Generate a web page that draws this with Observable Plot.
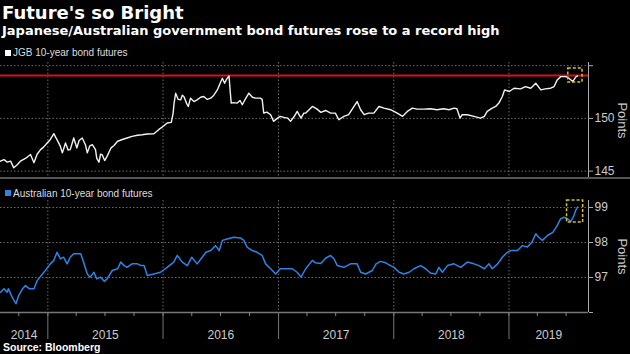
<!DOCTYPE html>
<html>
<head>
<meta charset="utf-8">
<script src="https://cdn.jsdelivr.net/npm/d3@7"></script>
<script src="https://cdn.jsdelivr.net/npm/@observablehq/plot@0.6"></script>
<style>
  html, body { margin: 0; padding: 0; background: #000; }
  #chart { position: relative; width: 630px; height: 354px; overflow: hidden; background: #000; }
  .abs { position: absolute; white-space: nowrap; }
  .title { left: 2px; top: 4px; font: bold 18px/18px "DejaVu Sans", sans-serif; color: #fff; }
  .subtitle { left: 2px; top: 24px; font: bold 13px/13px "DejaVu Sans", sans-serif; color: #fff; }
  .legend { font: 10px/10px "Liberation Sans", Arial, sans-serif; color: #ddd; }
  .swatch { position: absolute; width: 6px; height: 6px; }
  .source { left: 3px; top: 342px; font: bold 10.5px/10.5px "Liberation Sans", Arial, sans-serif; color: #fff; }
  .sep { position: absolute; left: 0; top: 177px; width: 630px; height: 2px; background: #555; }
</style>
</head>
<body>
<div id="chart">
  <div class="abs title">Future's so Bright</div>
  <div class="abs subtitle">Japanese/Australian government bond futures rose to a record high</div>
  <div id="top" class="abs" style="left:0;top:50px;"></div>
  <div class="sep"></div>
  <div id="bottom" class="abs" style="left:0;top:185px;"></div>
  <div class="swatch" style="left:5px;top:50px;background:#fff;"></div>
  <div class="abs legend" style="left:13px;top:48px;">JGB 10-year bond futures</div>
  <div class="swatch" style="left:5px;top:190px;background:#2d84e6;"></div>
  <div class="abs legend" style="left:13px;top:188.5px;">Australian 10-year bond futures</div>
  <div class="abs source">Source: Bloomberg</div>
</div>
<script>
// ---- data ----
const jgbDates = [
"2014-08-04","2014-08-15","2014-08-25","2014-09-05","2014-09-15","2014-09-26","2014-10-06","2014-10-22","2014-11-07","2014-11-18","2014-11-28","2014-12-09","2014-12-19","2014-12-30",
"2015-01-09","2015-01-20","2015-01-26","2015-01-30","2015-02-09","2015-02-16","2015-02-26","2015-03-06","2015-03-13","2015-03-24","2015-04-03","2015-04-10","2015-04-20","2015-04-30","2015-05-06","2015-05-14","2015-05-22","2015-06-01","2015-06-05","2015-06-12","2015-06-17","2015-06-22","2015-06-30","2015-07-08","2015-07-20","2015-07-29","2015-08-10","2015-08-25","2015-09-09","2015-09-25","2015-10-12","2015-10-27","2015-11-12","2015-12-03","2015-12-18",
"2016-01-04","2016-01-14","2016-01-27","2016-02-02","2016-02-05","2016-02-10","2016-02-18","2016-02-26","2016-03-02","2016-03-07","2016-03-16","2016-03-21","2016-03-28","2016-04-08","2016-04-18","2016-04-29","2016-05-09","2016-05-20","2016-05-31","2016-06-10","2016-06-21","2016-07-01","2016-07-07","2016-07-14","2016-07-20","2016-07-28","2016-08-01","2016-08-04","2016-08-12","2016-08-23","2016-09-01","2016-09-08","2016-09-19","2016-09-29","2016-10-10","2016-10-20","2016-11-04","2016-11-10","2016-11-15","2016-11-25","2016-12-07","2016-12-16","2016-12-28",
"2017-01-06","2017-01-18","2017-01-30","2017-02-08","2017-02-20","2017-03-01","2017-03-13","2017-03-22","2017-03-28","2017-04-07","2017-04-18","2017-05-02","2017-05-15","2017-05-30","2017-06-15","2017-06-30","2017-07-11","2017-07-27","2017-08-11","2017-08-28","2017-09-07","2017-09-18","2017-09-29","2017-10-13","2017-10-30","2017-11-15","2017-12-01","2017-12-22",
"2018-01-12","2018-01-29","2018-02-13","2018-03-01","2018-03-16","2018-04-06","2018-04-27","2018-05-18","2018-06-08","2018-06-25","2018-07-11","2018-07-20","2018-07-30","2018-08-06","2018-08-22","2018-09-12","2018-10-03","2018-10-15","2018-10-24","2018-11-09","2018-11-20","2018-11-30","2018-12-11","2018-12-18",
"2019-01-02","2019-01-17","2019-02-07","2019-02-22","2019-03-11","2019-03-27","2019-04-12","2019-04-26","2019-05-13","2019-05-24","2019-06-03","2019-06-14","2019-07-01","2019-07-10","2019-07-22","2019-07-31","2019-08-06"
];
const jgbValues = [
145.94,146.10,145.85,145.95,145.31,145.60,145.94,146.20,146.57,145.79,146.60,147.04,147.30,147.67,
148.00,148.55,148.20,147.99,147.40,146.73,147.67,147.00,147.04,148.14,147.20,147.90,148.14,147.50,146.73,147.40,147.51,147.04,146.20,145.85,146.60,146.57,146.00,146.42,147.20,147.40,147.83,148.00,148.14,148.30,148.40,148.45,148.52,148.55,148.93,
149.30,149.56,149.62,150.50,151.45,152.39,151.80,151.76,152.20,152.08,151.40,151.13,151.92,151.60,151.76,152.00,152.08,151.80,151.92,152.20,152.70,153.40,153.80,153.33,153.70,154.03,152.50,151.45,151.50,151.45,151.70,151.29,151.90,152.39,152.00,151.92,151.92,151.80,150.50,150.60,150.35,149.72,150.00,
150.19,150.10,150.03,149.72,150.20,150.66,150.03,150.50,150.50,150.80,151.13,150.90,150.57,150.75,150.50,150.50,149.87,150.19,150.35,151.13,151.60,150.82,150.35,150.50,150.50,151.13,150.97,150.82,
150.50,150.19,150.66,150.97,150.88,150.88,150.91,150.82,150.91,150.82,150.97,150.91,150.03,150.35,150.35,150.19,150.03,150.19,150.66,150.97,151.13,151.45,152.08,152.70,
152.55,152.86,152.80,153.02,152.86,153.33,152.70,152.80,152.86,153.02,153.65,153.96,153.96,153.80,153.49,153.90,154.03
];
const audDates = [
"2014-08-04","2014-08-15","2014-08-25","2014-08-29","2014-09-10","2014-09-22","2014-10-01","2014-10-13","2014-10-22","2014-11-03","2014-11-18","2014-11-28","2014-12-15","2014-12-24",
"2015-01-09","2015-01-20","2015-01-30","2015-02-10","2015-02-20","2015-03-03","2015-03-13","2015-03-24","2015-04-15","2015-04-24","2015-05-06","2015-05-15","2015-05-27","2015-06-05","2015-06-17","2015-06-29","2015-07-08","2015-07-24","2015-08-10","2015-08-20","2015-08-31","2015-09-09","2015-09-25","2015-10-12","2015-10-23","2015-11-02","2015-11-12","2015-12-03","2015-12-24",
"2016-01-14","2016-02-04","2016-02-15","2016-03-02","2016-03-18","2016-04-01","2016-04-18","2016-05-04","2016-05-16","2016-05-31","2016-06-15","2016-06-27","2016-07-07","2016-07-22","2016-08-12","2016-09-02","2016-09-13","2016-09-23","2016-10-10","2016-10-25","2016-11-10","2016-11-21","2016-12-07","2016-12-23",
"2017-01-06","2017-01-30","2017-02-13","2017-03-01","2017-03-13","2017-03-28","2017-04-18","2017-04-28","2017-05-15","2017-05-30","2017-06-15","2017-06-26","2017-07-06","2017-07-27","2017-08-17","2017-09-07","2017-09-18","2017-10-04","2017-10-25","2017-11-06","2017-11-20","2017-12-06","2017-12-22",
"2018-01-02","2018-01-18","2018-02-02","2018-02-19","2018-03-06","2018-03-27","2018-04-12","2018-04-27","2018-05-14","2018-05-24","2018-06-04","2018-06-20","2018-07-11","2018-08-01","2018-08-22","2018-09-12","2018-09-28","2018-10-15","2018-10-30","2018-11-09","2018-11-26","2018-12-11","2018-12-27",
"2019-01-07","2019-01-28","2019-02-12","2019-02-28","2019-03-15","2019-03-27","2019-04-05","2019-04-17","2019-05-03","2019-05-20","2019-06-03","2019-06-14","2019-06-25","2019-07-05","2019-07-16","2019-07-26","2019-07-31","2019-08-06"
];
const audValues = [
96.58,96.68,96.58,96.68,96.44,96.25,96.49,96.68,96.77,96.68,96.68,96.91,97.10,97.20,
97.39,97.49,97.72,97.53,97.58,97.39,97.58,97.68,97.68,97.44,97.10,97.01,97.15,96.96,97.01,96.89,96.96,97.20,97.25,97.44,97.34,97.29,97.39,97.39,97.34,97.34,97.06,97.10,97.15,
97.29,97.44,97.63,97.44,97.34,97.58,97.39,97.58,97.72,97.77,97.91,97.77,98.06,98.10,98.15,98.13,98.06,97.87,97.77,97.72,97.63,97.39,97.25,97.10,
97.25,97.25,97.25,97.15,97.01,97.25,97.49,97.42,97.40,97.55,97.63,97.53,97.34,97.29,97.39,97.39,97.15,97.10,97.20,97.39,97.46,97.42,97.34,
97.29,97.15,97.10,97.15,97.25,97.34,97.25,97.13,97.10,97.29,97.15,97.34,97.39,97.29,97.44,97.39,97.34,97.25,97.39,97.25,97.39,97.58,97.72,
97.77,97.77,97.91,97.87,98.01,98.25,98.15,98.06,98.20,98.29,98.49,98.68,98.72,98.68,98.60,98.77,98.91,99.01
];
const xDomain = ["2014-08-04", "2019-09-10"];
const yearTicks = ["2015-01-01", "2016-01-01", "2017-01-01", "2018-01-01", "2019-01-01"];
const recordHigh = 154.06;
const topDomain = [144.3, 155.3];
const topTicks = [145, 150, 155];
const topTickLabels = [145, 150];
const bottomDomain = [96, 99.2];
const bottomTicks = [96, 97, 98, 99];
const bottomTickLabels = [97, 98, 99];
const highlightTop = [{start: "2019-07-08", end: "2019-08-22", low: 153.40, high: 154.73}];
const highlightBottom = [{start: "2019-07-04", end: "2019-08-24", low: 98.57, high: 99.20}];

// ---- build ----
const parse = d3.utcParse("%Y-%m-%d");
const jgb = jgbDates.map((d, i) => ({date: parse(d), value: jgbValues[i]}));
const aud = audDates.map((d, i) => ({date: parse(d), value: audValues[i]}));
const xd = xDomain.map(parse);
const years = yearTicks.map(parse);
const quarters = d3.utcMonth.every(3).range(xd[0], xd[1]);
const bounds = [xd[0], ...years, xd[1]];
const labelDates = d3.pairs(bounds).map(([a, b]) => new Date((+a + +b) / 2));
const hl = arr => arr.map(h => ({x1: parse(h.start), x2: parse(h.end), y1: h.low, y2: h.high}));

const grid = {stroke: "#777", strokeOpacity: 0.9, strokeDasharray: "1.5,2"};
const common = {
  width: 630, marginLeft: 0, marginRight: 42,
  style: {background: "transparent", color: "#ccc", fontFamily: "'Liberation Sans', Arial, sans-serif", fontSize: "11px"}
};
const pointsLabel = Plot.text(["Points"], {frameAnchor: "right", dx: 34, rotate: 90, text: d => d, fontSize: 13, fill: "#ccc", textAnchor: "middle", lineAnchor: "middle"});

const topPlot = Plot.plot({
  ...common,
  height: 130, marginTop: 12, marginBottom: 2,
  x: {type: "utc", domain: xd, axis: null},
  y: {domain: topDomain},
  marks: [
    Plot.gridX({ticks: years, ...grid}),
    Plot.gridY({ticks: topTicks, ...grid}),
    Plot.ruleY([recordHigh], {stroke: "#d5121c", strokeWidth: 2}),
    Plot.line(jgb, {x: "date", y: "value", stroke: "#f2f2f2", strokeWidth: 1.4}),
    Plot.rect(hl(highlightTop), {x1: "x1", x2: "x2", y1: "y1", y2: "y2", fill: "none", stroke: "#d9c51c", strokeWidth: 1.5, strokeDasharray: "3,2"}),
    Plot.ruleX([xd[1]], {stroke: "#aaa", strokeWidth: 1}),
    Plot.axisY({anchor: "right", ticks: topTicks, tickSize: 4, tickPadding: 2, stroke: "#aaa", fill: "#ccc", fontSize: 12, label: null,
      tickFormat: d => topTickLabels.includes(d) ? String(d) : ""}),
    pointsLabel
  ]
});

const bottomPlot = Plot.plot({
  ...common,
  height: 160, marginTop: 15, marginBottom: 33,
  x: {type: "utc", domain: xd},
  y: {domain: bottomDomain},
  marks: [
    Plot.gridX({ticks: years, ...grid}),
    Plot.gridY({ticks: bottomTicks.slice(1), ...grid}),
    Plot.line(aud, {x: "date", y: "value", stroke: "#2d84e6", strokeWidth: 1.5}),
    Plot.rect(hl(highlightBottom), {x1: "x1", x2: "x2", y1: "y1", y2: "y2", fill: "none", stroke: "#d9c51c", strokeWidth: 1.5, strokeDasharray: "3,2"}),
    Plot.ruleX([xd[1]], {stroke: "#aaa", strokeWidth: 1}),
    Plot.ruleY([bottomDomain[0]], {stroke: "#777", strokeWidth: 1.5}),
    Plot.axisY({anchor: "right", ticks: bottomTicks, tickSize: 4, tickPadding: 2, stroke: "#aaa", fill: "#ccc", fontSize: 12, label: null,
      tickFormat: d => bottomTickLabels.includes(d) ? String(d) : ""}),
    Plot.axisX({anchor: "bottom", ticks: quarters, tickSize: 4, tickFormat: () => "", stroke: "#888", label: null}),
    Plot.axisX({anchor: "bottom", ticks: years, tickSize: 27, tickFormat: () => "", stroke: "#777", label: null}),
    Plot.axisX({anchor: "bottom", ticks: labelDates, tickSize: 0, tickPadding: 18, tickFormat: d3.utcFormat("%Y"), fill: "#ccc", fontSize: 12, label: null}),
    pointsLabel
  ]
});

document.getElementById("top").appendChild(topPlot);
document.getElementById("bottom").appendChild(bottomPlot);
</script>
</body>
</html>
